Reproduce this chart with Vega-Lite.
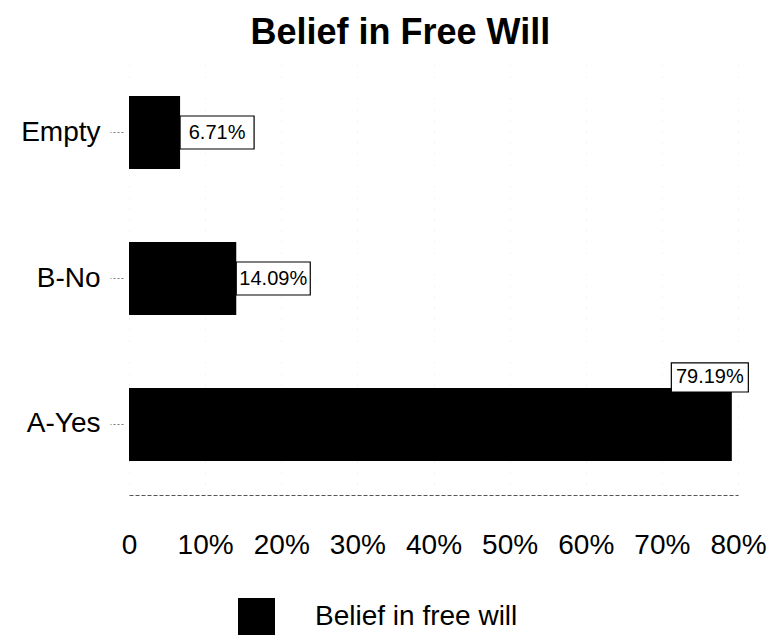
{
  "$schema": "https://vega.github.io/schema/vega-lite/v6.json",
  "width": 609,
  "height": 433,
  "autosize": {"type": "none"},
  "padding": {"left": 129, "top": 62, "right": 35, "bottom": 140},
  "background": "white",
  "title": {
    "text": "Belief in Free Will",
    "font": "Liberation Sans",
    "fontSize": 36,
    "fontWeight": "bold",
    "color": "#000000",
    "anchor": "middle",
    "frame": "bounds",
    "baseline": "alphabetic",
    "offset": 19,
    "dx": 7,
    "dy": 37
  },
  "config": {
    "view": {"stroke": null},
    "font": "Liberation Sans"
  },
  "data": {
    "values": [
      {"answer": "Empty", "value": 6.71, "label": "6.71%", "series": "Belief in free will"},
      {"answer": "B-No", "value": 14.09, "label": "14.09%", "series": "Belief in free will"},
      {"answer": "A-Yes", "value": 79.19, "label": "79.19%", "series": "Belief in free will"}
    ]
  },
  "encoding": {
    "y": {
      "field": "answer",
      "type": "nominal",
      "sort": ["Empty", "B-No", "A-Yes"],
      "scale": {"paddingInner": 0.5, "paddingOuter": 0.233},
      "axis": {
        "title": null,
        "domain": false,
        "ticks": true,
        "tickSize": 13,
        "tickColor": "#777777",
        "tickDash": [2, 2],
        "offset": 6,
        "labelPadding": 10,
        "labelFont": "Liberation Sans",
        "labelFontSize": 28,
        "labelColor": "#000000",
        "grid": false
      }
    },
    "x": {
      "field": "value",
      "type": "quantitative",
      "scale": {"domain": [0, 80], "nice": false, "zero": true},
      "axis": {
        "title": null,
        "values": [0, 10, 20, 30, 40, 50, 60, 70, 80],
        "labelExpr": "datum.value == 0 ? '0' : datum.value + '%'",
        "labelFont": "Liberation Sans",
        "labelFontSize": 28,
        "labelColor": "#000000",
        "labelPadding": 36,
        "labelFlush": false,
        "labelOverlap": false,
        "ticks": false,
        "domain": true,
        "domainColor": "#555555",
        "domainDash": [4, 2],
        "domainWidth": 1,
        "grid": true,
        "gridColor": "#d0d0d0",
        "gridDash": [1, 10],
        "gridOpacity": 0.5
      }
    }
  },
  "layer": [
    {
      "mark": {"type": "bar", "color": "#000000"},
      "encoding": {
        "color": {
          "field": "series",
          "type": "nominal",
          "scale": {"range": ["#000000"]},
          "legend": {
            "title": null,
            "orient": "none",
            "legendX": 109,
            "legendY": 536,
            "padding": 0,
            "symbolType": "square",
            "symbolSize": 1369,
            "symbolStrokeWidth": 0,
            "symbolOpacity": 1,
            "labelFont": "Liberation Sans",
            "labelFontSize": 28,
            "labelColor": "#000000",
            "labelOffset": 40,
            "labelLimit": 400
          }
        }
      }
    },
    {
      "transform": [{"filter": "datum.value < 50"}],
      "mark": {
        "type": "point",
        "shape": "M-1,-0.446L1,-0.446L1,0.446L-1,0.446Z",
        "size": 5476,
        "filled": true,
        "fill": "#ffffff",
        "stroke": "#000000",
        "strokeWidth": 1.2,
        "opacity": 1,
        "xOffset": 37
      }
    },
    {
      "transform": [{"filter": "datum.value < 50"}],
      "mark": {
        "type": "text",
        "font": "Liberation Sans",
        "fontSize": 20,
        "color": "#000000",
        "align": "center",
        "baseline": "middle",
        "xOffset": 37
      },
      "encoding": {"text": {"field": "label"}}
    },
    {
      "transform": [{"filter": "datum.value >= 50"}],
      "mark": {
        "type": "point",
        "shape": "M-1,-0.377L1,-0.377L1,0.377L-1,0.377Z",
        "size": 5929,
        "filled": true,
        "fill": "#ffffff",
        "stroke": "#000000",
        "strokeWidth": 1.2,
        "opacity": 1,
        "xOffset": -22,
        "yOffset": -47
      }
    },
    {
      "transform": [{"filter": "datum.value >= 50"}],
      "mark": {
        "type": "text",
        "font": "Liberation Sans",
        "fontSize": 20,
        "color": "#000000",
        "align": "center",
        "baseline": "middle",
        "xOffset": -22,
        "yOffset": -47
      },
      "encoding": {"text": {"field": "label"}}
    }
  ]
}
